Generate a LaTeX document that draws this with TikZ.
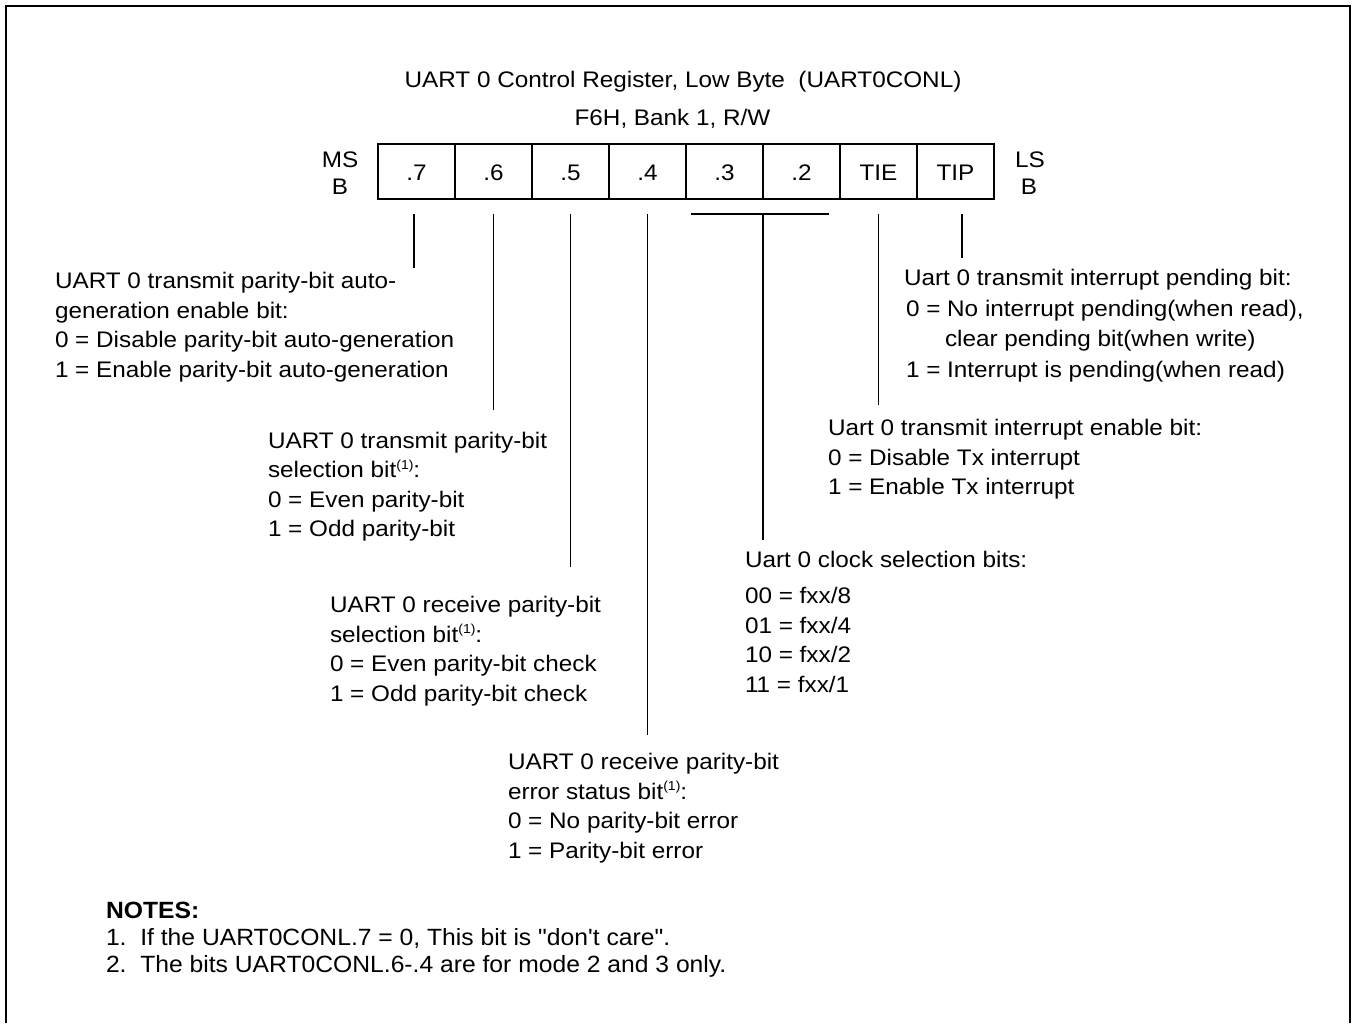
\documentclass[tikz,border=0pt]{standalone}
\usepackage{fontspec}
\setmainfont{Liberation Sans}[FakeStretch=1.08]
\newfontfamily\notesfont{Liberation Sans}[FakeStretch=1.05]
\newcommand\supone{\raisebox{8.5pt}{\fontsize{13}{13}\selectfont(1)}}
\newcommand\firststrut{\rule{0pt}{20pt}}
\begin{document}
\begin{tikzpicture}[x=1pt,y=-1pt,
  every node/.style={inner sep=0pt, outer sep=0pt, font=\fontsize{22.5}{29.5}\selectfont},
  cell/.style={draw, line width=1.7pt, minimum width=77pt, minimum height=55pt, text height=18pt, text depth=0pt},
  desc/.style={anchor=north west, align=left},
  tick/.style={line width=1.7pt},
  lbl/.style={anchor=base},
  frame/.style={line width=2.2pt}
]
\useasboundingbox (0,0) rectangle (1352,1023);
\draw[frame] (6,1023) -- (6,6) -- (1349.7,6) -- (1349.7,1023);

% title
\node[lbl] (title) at (683,87) {UART 0 Control Register, Low Byte\ \ (UART0CONL)};
\node[lbl] (addr) at (672.5,125) {F6H, Bank 1, R/W};

% register cells
\node[cell] (c7) at (416.5,171.5) {.7};
\node[cell] (c6) at (493.5,171.5) {.6};
\node[cell] (c5) at (570.5,171.5) {.5};
\node[cell] (c4) at (647.5,171.5) {.4};
\node[cell] (c3) at (724.5,171.5) {.3};
\node[cell] (c2) at (801.5,171.5) {.2};
\node[cell] (cE) at (878.5,171.5) {TIE};
\node[cell] (cP) at (955.5,171.5) {TIP};

\node[lbl] (ms) at (340,167) {MS};
\node[lbl] (msb) at (340,194) {B};
\node[lbl] (ls) at (1030,167) {LS};
\node[lbl] (lsb) at (1029,194) {B};

% descriptions (north = first baseline - 20)
\node[desc] (d7) at (55,268.5) {\firststrut UART 0 transmit parity-bit auto-\\
generation enable bit:\\
0 = Disable parity-bit auto-generation\\
1 = Enable parity-bit auto-generation};

\node[desc] (d6) at (268,428) {\firststrut UART 0 transmit parity-bit\\
selection bit\supone:\\
0 = Even parity-bit\\
1 = Odd parity-bit};

\node[desc] (d5) at (330,592.5) {\firststrut UART 0 receive parity-bit\\
selection bit\supone:\\
0 = Even parity-bit check\\
1 = Odd parity-bit check};

\node[desc] (d4) at (508,749.5) {\firststrut UART 0 receive parity-bit\\
error status bit\supone:\\
0 = No parity-bit error\\
1 = Parity-bit error};

\node[desc] (d32) at (745,547.5) {\firststrut Uart 0 clock selection bits:\\[6.5pt]
00 = fxx/8\\
01 = fxx/4\\
10 = fxx/2\\
11 = fxx/1};

\node[desc] (dE) at (828,415.5) {\firststrut Uart 0 transmit interrupt enable bit:\\
0 = Disable Tx interrupt\\
1 = Enable Tx interrupt};

\node[desc] (dP) at (904,265.5) {\firststrut Uart 0 transmit interrupt pending bit:\\[1pt]
\hspace*{2pt}0 = No interrupt pending(when read),\\[1pt]
\hspace*{41pt}clear pending bit(when write)\\[1pt]
\hspace*{2pt}1 = Interrupt is pending(when read)};

% notes
\node[desc, font=\notesfont\fontsize{23.5}{27}\selectfont] (notes) at (106,898) {\firststrut\textbf{NOTES:}\\
1.\ \ If the UART0CONL.7 = 0, This bit is \symbol{34}don\symbol{39}t care\symbol{34}.\\
2.\ \ The bits UART0CONL.6-.4 are for mode 2 and 3 only.};

% connectors
\draw[tick] ([xshift=-2.5pt,yshift=-15pt]c7.south) coordinate (t7) -- ++(0,54) coordinate (e7);
\draw[tick] ([yshift=-15pt]c6.south) coordinate (t6) -- ++(0,196) coordinate (e6);
\draw[tick] ([yshift=-15pt]c5.south) coordinate (t5) -- ++(0,353) coordinate (e5);
\draw[tick] ([yshift=-15pt]c4.south) coordinate (t4) -- ++(0,521) coordinate (e4);
\coordinate (h3) at (691,214);
\coordinate (h2) at (829,214);
\coordinate (hm) at (763,214);
\coordinate (hb) at (763,540);
\draw[tick] (h3) -- (h2);
\draw[tick] (hm) -- (hb);
\draw[tick] ([yshift=-15pt]cE.south) coordinate (tE) -- ++(0,191) coordinate (eE);
\draw[tick] ([xshift=6.5pt,yshift=-15pt]cP.south) coordinate (tP) -- ++(0,44) coordinate (eP);
\end{tikzpicture}
\end{document}
